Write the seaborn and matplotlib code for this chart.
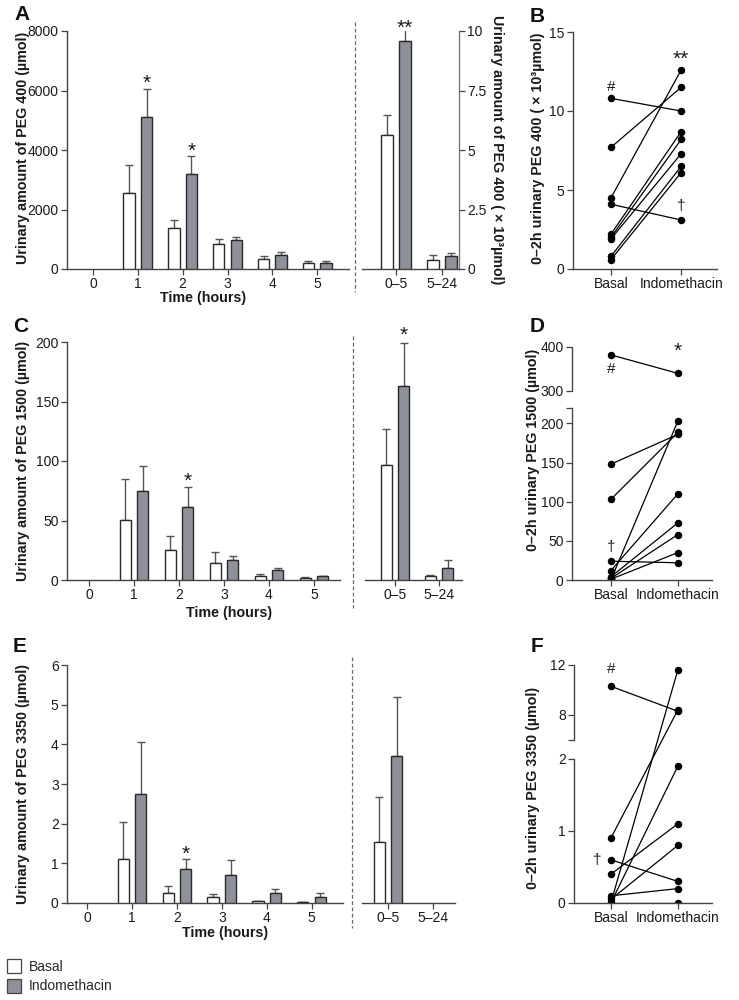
import numpy as np
import pandas as pd
import matplotlib
matplotlib.use("Agg")
import matplotlib.pyplot as plt
from matplotlib.lines import Line2D
from matplotlib.patches import Patch
import seaborn as sns

# ---------------- data ----------------
groups = ["Basal", "Indomethacin"]
hours = ["0", "1", "2", "3", "4", "5"]          # hour 0 has no bars
hours_data = ["1", "2", "3", "4", "5"]
periods = ["0\u20135", "5\u201324"]

# PEG 400 (µmol), hourly
a_basal = [2551, 1376, 839, 336, 201]
a_basal_sem = [929, 280, 168, 89, 56]
a_indo = [5124, 3200, 962, 481, 201]
a_indo_sem = [918, 582, 112, 79, 56]
# PEG 400 (x10^3 µmol), periods
a_per_basal = [5.62, 0.36]
a_per_basal_sem = [0.86, 0.24]
a_per_indo = [9.58, 0.56]
a_per_indo_sem = [0.52, 0.11]

# PEG 1500 (µmol)
c_basal = [50.8, 25.6, 14.6, 3.7, 2.0]
c_basal_sem = [34.0, 11.5, 9.3, 1.6, 0.5]
c_indo = [74.7, 61.5, 16.6, 8.1, 3.1]
c_indo_sem = [21.5, 17.0, 3.6, 2.0, 0.6]
c_per_basal = [96.6, 3.4]
c_per_basal_sem = [30.3, 0.8]
c_per_indo = [163.3, 10.0]
c_per_indo_sem = [35.6, 6.8]

# PEG 3350 (µmol)
e_basal = [1.12, 0.25, 0.14, 0.04, 0.02]
e_basal_sem = [0.93, 0.18, 0.08, 0.01, 0.01]
e_indo = [2.75, 0.85, 0.70, 0.25, 0.15]
e_indo_sem = [1.30, 0.25, 0.38, 0.10, 0.10]
e_per_basal = [1.54]          # 0-5 only
e_per_basal_sem = [1.13]
e_per_indo = [3.70]
e_per_indo_sem = [1.50]

# paired 0-2 h data (9 subjects)
b_basal = [10.8, 7.7, 4.5, 4.1, 2.2, 2.0, 1.9, 0.8, 0.6]
b_indo = [10.0, 11.5, 12.6, 3.1, 8.7, 8.2, 7.3, 6.5, 6.1]
d_basal = [382, 148, 103, 24, 0, 12, 4, 2, 1]
d_indo = [340, 186, 188.5, 22, 203, 110, 73, 58, 35]
f_basal = [10.3, 0.9, 0.0, 0.0, 0.4, 0.05, 0.6, 0.1, 0.0]
f_indo = [8.3, 8.4, 11.6, 1.9, 1.1, 0.8, 0.3, 0.2, 0.0]

# ---------------- style ----------------
sns.set_style("ticks")
plt.rcParams["font.family"] = ["Liberation Sans", "DejaVu Sans"]
plt.rcParams["axes.edgecolor"] = "#444444"
plt.rcParams["axes.linewidth"] = 1.0
plt.rcParams["xtick.color"] = "#444444"
plt.rcParams["ytick.color"] = "#444444"
plt.rcParams["xtick.labelcolor"] = "#1a1a1a"
plt.rcParams["ytick.labelcolor"] = "#1a1a1a"

W, H = 739, 1000
fig = plt.figure(figsize=(W / 100, H / 100), dpi=100)

def rect(x0, x1, ytop, ybot):
    return [x0 / W, 1 - ybot / H, (x1 - x0) / W, (ybot - ytop) / H]

palette = {"Basal": "#ffffff", "Indomethacin": "#8e9199"}
EDGE = "#2a2a2a"
ERRC = "#555555"
TICKFS = 10

def style_ax(ax):
    ax.tick_params(labelsize=TICKFS, length=4, width=0.9, pad=2)
    for s in ["top", "right"]:
        ax.spines[s].set_visible(False)

def bars(ax, cats, order, basal, indo, bsem, isem):
    df = pd.DataFrame({
        "cat": list(cats) + list(cats),
        "group": ["Basal"] * len(cats) + ["Indomethacin"] * len(cats),
        "val": list(basal) + list(indo),
    })
    sns.barplot(data=df, x="cat", y="val", hue="group", order=order,
                hue_order=groups, palette=palette, saturation=1,
                edgecolor=EDGE, linewidth=1.0, width=0.78, gap=0.36,
                errorbar=None, legend=False, ax=ax, zorder=3)
    tops = {}
    for cont, g, sems in zip(ax.containers, groups, [bsem, isem]):
        for cat, p, s in zip(cats, cont.patches, sems):
            x = p.get_x() + p.get_width() / 2
            h = p.get_height()
            ax.errorbar([x], [h], yerr=[[0], [s]], fmt="none", ecolor=ERRC,
                        elinewidth=1.0, capsize=3, capthick=1.0, zorder=2)
            tops[(g, cat)] = (x, h + s)
    ax.set_xlabel("")
    ax.set_ylabel("")
    return tops

def star(ax, pos, s, dy=0):
    ax.annotate(s, xy=pos, xytext=(0, dy), textcoords="offset points",
                ha="center", va="baseline", fontsize=15, color="#1a1a1a",
                annotation_clip=False)

def paired(ax, basal, indo):
    n = len(basal)
    df = pd.DataFrame({
        "subject": list(range(n)) * 2,
        "cond": ["Basal"] * n + ["Indomethacin"] * n,
        "val": list(basal) + list(indo),
    })
    sns.lineplot(data=df, x="cond", y="val", units="subject", estimator=None,
                 color="black", linewidth=0.9, marker="o", markersize=5.4,
                 markeredgewidth=0, sort=False, legend=False, ax=ax)
    ax.set_xlabel("")
    ax.set_ylabel("")

def piecewise(a, b, s1, sg, s2):
    ta = a * s1
    tb = ta + (b - a) * sg
    def fwd(y):
        y = np.asarray(y, dtype=float)
        return np.where(y <= a, y * s1, np.where(y <= b, ta + (y - a) * sg, tb + (y - b) * s2))
    def inv(t):
        t = np.asarray(t, dtype=float)
        return np.where(t <= ta, t / s1, np.where(t <= tb, a + (t - ta) / sg, b + (t - tb) / s2))
    return fwd, inv

def ftext(x, y, s, **kw):
    fig.text(x / W, 1 - y / H, s, **kw)

LBL = dict(fontsize=10.3, fontweight="bold", color="#1a1a1a", ha="center", va="center")

# ================= Panel A =================
axA = fig.add_axes(rect(67, 349, 31, 269))
t = bars(axA, hours_data, hours, a_basal, a_indo, a_basal_sem, a_indo_sem)
axA.set_ylim(0, 8000)
axA.set_xlim(-0.58, 5.71)
axA.set_yticks([0, 2000, 4000, 6000, 8000])
style_ax(axA)
star(axA, t[("Indomethacin", "1")], "*")
star(axA, t[("Indomethacin", "2")], "*")

axA2 = fig.add_axes(rect(362, 459, 31, 269))
t = bars(axA2, periods, periods, a_per_basal, a_per_indo, a_per_basal_sem, a_per_indo_sem)
axA2.set_ylim(0, 10)
axA2.set_xlim(-0.74, 1.37)
axA2.yaxis.tick_right()
axA2.set_yticks([0, 2.5, 5, 7.5, 10])
axA2.set_yticklabels(["0", "2.5", "5", "7.5", "10"])
axA2.tick_params(labelsize=TICKFS, length=4, width=0.9, pad=2)
axA2.spines["top"].set_visible(False)
axA2.spines["left"].set_visible(False)
axA2.spines["right"].set_color("#777777")
star(axA2, t[("Indomethacin", periods[0])], "**", dy=-4)

axB = fig.add_axes(rect(573, 717, 32, 269))
paired(axB, b_basal, b_indo)
axB.set_ylim(0, 15)
axB.set_xlim(-0.54, 1.51)
axB.set_yticks([0, 5, 10, 15])
style_ax(axB)
axB.text(1, 12.95, "**", ha="center", va="baseline", fontsize=15, color="#1a1a1a")
axB.text(0, 11.5, "#", ha="center", va="center", fontsize=11, color="#1a1a1a")
axB.text(1, 4.0, "\u2020", ha="center", va="center", fontsize=11, color="#1a1a1a")

# ================= Panel C =================
axC = fig.add_axes(rect(67, 340, 342, 580))
t = bars(axC, hours_data, hours, c_basal, c_indo, c_basal_sem, c_indo_sem)
axC.set_ylim(0, 200)
axC.set_xlim(-0.49, 5.58)
axC.set_yticks([0, 50, 100, 150, 200])
style_ax(axC)
star(axC, t[("Indomethacin", "2")], "*")

axC2 = fig.add_axes(rect(365, 462, 342, 580))
t = bars(axC2, periods, periods, c_per_basal, c_per_indo, c_per_basal_sem, c_per_indo_sem)
axC2.set_ylim(0, 200)
axC2.set_xlim(-0.68, 1.52)
axC2.set_yticks([])
style_ax(axC2)
axC2.spines["left"].set_visible(False)
star(axC2, t[("Indomethacin", periods[0])], "*", dy=2)

axD = fig.add_axes(rect(572, 712, 347, 580))
paired(axD, d_basal, d_indo)
fD, iD = piecewise(220, 300, 0.785, 17 / 80, 0.44)
axD.set_yscale("function", functions=(fD, iD))
axD.set_ylim(0, 400)
axD.set_xlim(-0.58, 1.51)
axD.set_yticks([0, 50, 100, 150, 200, 220, 300, 400])
axD.set_yticklabels(["0", "50", "100", "150", "200", "", "300", "400"])
axD.yaxis.set_minor_locator(matplotlib.ticker.NullLocator())
style_ax(axD)
axD.spines["left"].set_bounds(0, 220)
axD.add_line(Line2D([0, 0], [300, 400], transform=axD.get_yaxis_transform(),
                    color="#444444", lw=1.0, clip_on=False))
axD.text(1, 377, "*", ha="center", va="baseline", fontsize=15, color="#1a1a1a")
axD.text(0, 350, "#", ha="center", va="center", fontsize=11, color="#1a1a1a")
axD.text(0, 42, "\u2020", ha="center", va="center", fontsize=11, color="#1a1a1a")

# ================= Panel E =================
axE = fig.add_axes(rect(67, 343, 665, 903))
t = bars(axE, hours_data, hours, e_basal, e_indo, e_basal_sem, e_indo_sem)
axE.set_ylim(0, 6)
axE.set_xlim(-0.45, 5.70)
axE.set_yticks([0, 1, 2, 3, 4, 5, 6])
style_ax(axE)
star(axE, t[("Indomethacin", "2")], "*")

axE2 = fig.add_axes(rect(362, 455, 665, 903))
bars(axE2, periods[:1], periods, e_per_basal, e_per_indo, e_per_basal_sem, e_per_indo_sem)
axE2.set_ylim(0, 6)
axE2.set_xlim(-0.58, 1.49)
axE2.set_yticks([])
style_ax(axE2)
axE2.spines["left"].set_visible(False)

axF = fig.add_axes(rect(574, 712, 665, 903))
paired(axF, f_basal, f_indo)
fF, iF = piecewise(2, 6, 72, 19 / 4, 12.5)
axF.set_yscale("function", functions=(fF, iF))
axF.set_ylim(0, 12)
axF.set_xlim(-0.55, 1.51)
axF.set_yticks([0, 1, 2, 6, 8, 12])
axF.set_yticklabels(["0", "1", "2", "", "8", "12"])
axF.yaxis.set_minor_locator(matplotlib.ticker.NullLocator())
style_ax(axF)
axF.spines["left"].set_bounds(0, 2)
axF.add_line(Line2D([0, 0], [6, 12], transform=axF.get_yaxis_transform(),
                    color="#444444", lw=1.0, clip_on=False))
axF.text(0, 11.7, "#", ha="center", va="center", fontsize=11, color="#1a1a1a")
axF.text(-0.21, 0.6, "\u2020", ha="center", va="center", fontsize=11, color="#1a1a1a")

# ---------------- separators ----------------
for x, y0, y1 in [(355, 22, 292), (353, 336, 608), (352, 657, 928)]:
    fig.add_artist(Line2D([x / W, x / W], [1 - y0 / H, 1 - y1 / H],
                          transform=fig.transFigure, color="#666666",
                          lw=0.9, linestyle=(0, (3, 2))))

# ---------------- labels ----------------
ftext(23, 148, "Urinary amount of PEG 400 (\u00b5mol)", rotation=90, **LBL)
ftext(497, 150, "Urinary amount of PEG 400 ( \u00d7 10\u00b3\u00b5mol)", rotation=-90, **LBL)
ftext(538, 148, "0\u20132h urinary PEG 400 ( \u00d7 10\u00b3\u00b5mol)", rotation=90, **LBL)
ftext(203, 298, "Time (hours)", **LBL)

ftext(23, 461, "Urinary amount of PEG 1500 (\u00b5mol)", rotation=90, **LBL)
ftext(533, 450, "0\u20132h urinary PEG 1500 (\u00b5mol)", rotation=90, **LBL)
ftext(229, 613, "Time (hours)", **LBL)

ftext(23, 784, "Urinary amount of PEG 3350 (\u00b5mol)", rotation=90, **LBL)
ftext(533, 788, "0\u20132h urinary PEG 3350 (\u00b5mol)", rotation=90, **LBL)
ftext(225, 933, "Time (hours)", **LBL)

PL = dict(fontsize=15, fontweight="bold", color="#111111", ha="center", va="center")
ftext(22, 15, "A", **PL)
ftext(537, 17, "B", **PL)
ftext(21, 327, "C", **PL)
ftext(537, 326, "D", **PL)
ftext(20, 646, "E", **PL)
ftext(537, 646, "F", **PL)

# ---------------- legend ----------------
handles = [Patch(facecolor=palette[g], edgecolor="#444444", linewidth=0.9) for g in groups]
fig.legend(handles, groups, loc="upper left", bbox_to_anchor=(0.0, 1 - 952 / H),
           frameon=False, fontsize=10, handlelength=1.0, handleheight=1.2,
           labelspacing=0.35, handletextpad=0.6, borderpad=0.2, borderaxespad=0.3)

fig.savefig("out.png", dpi=100)
